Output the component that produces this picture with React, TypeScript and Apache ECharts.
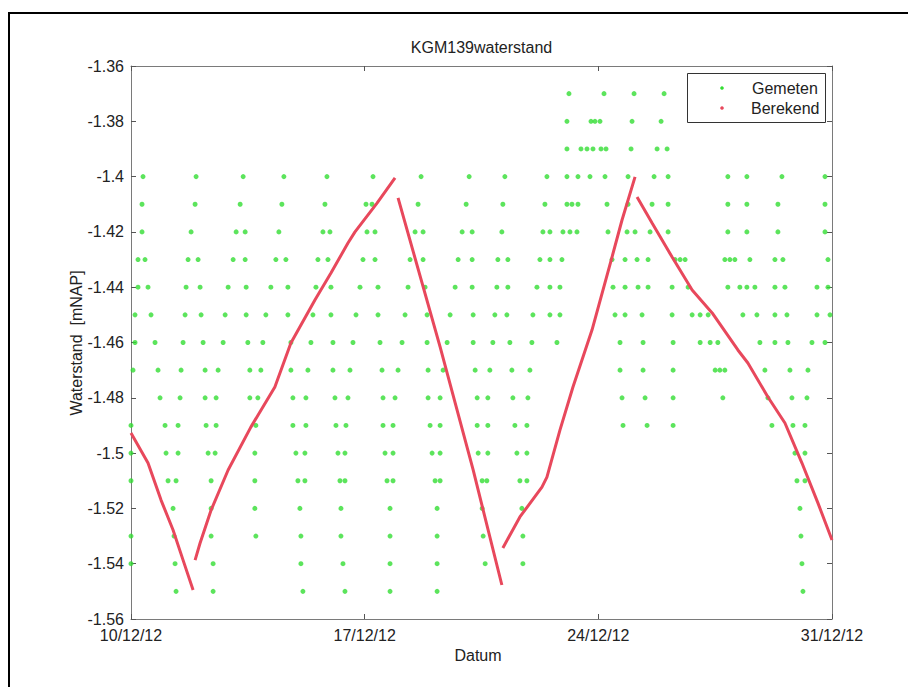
import React, { useEffect, useRef } from "react";
import * as echarts from "echarts";

// X axis: days since 10/12/2012 00:00
const xTickLabels = ["10/12/12", "17/12/12", "24/12/12", "31/12/12"];
const yTickValues = [-1.56, -1.54, -1.52, -1.5, -1.48, -1.46, -1.44, -1.42, -1.4, -1.38, -1.36];

// Gemeten (measured), one array of day offsets per water level
const gemetenLevels = [-1.37, -1.38, -1.39, -1.4, -1.41, -1.42, -1.43, -1.44, -1.45, -1.46, -1.47, -1.48, -1.49, -1.5, -1.51, -1.52, -1.53, -1.54, -1.55];
const g137 = [13.12, 14.17, 15.07, 15.97];
const g138 = [13.06, 13.78, 13.9, 14.05, 15.01, 15.88];
const g139 = [13.06, 13.48, 13.66, 13.84, 14.08, 14.23, 14.98, 15.76, 16.06];
const g140 = [0.36, 1.95, 3.36, 4.58, 5.87, 7.25, 8.69, 10.13, 11.2, 12.46, 13.06, 13.39, 13.75, 14.2, 14.89, 15.67, 16.09, 17.88, 18.45, 19.5, 20.79];
const g141 = [0.33, 1.92, 3.27, 4.52, 5.81, 7.04, 7.22, 8.6, 10.04, 11.14, 12.4, 13.06, 13.21, 13.39, 14.26, 14.89, 15.61, 16.09, 17.88, 18.45, 19.38, 20.79];
const g142 = [0.33, 1.8, 3.15, 3.42, 4.43, 5.75, 5.96, 7.07, 7.31, 8.51, 8.75, 9.92, 10.22, 11.11, 12.34, 12.55, 12.94, 13.15, 13.36, 14.29, 14.86, 15.1, 15.55, 16.09, 17.88, 18.45, 19.38, 20.79];
const g143 = [0.21, 0.42, 1.71, 2.01, 3.06, 3.42, 4.34, 4.64, 5.6, 5.9, 6.95, 7.31, 8.36, 8.75, 9.8, 10.22, 10.99, 11.29, 12.25, 12.55, 12.91, 14.41, 14.8, 15.16, 15.49, 16.3, 16.45, 16.6, 17.79, 17.94, 18.09, 18.54, 19.29, 19.53, 20.88];
const g144 = [0.21, 0.51, 1.65, 2.07, 2.91, 3.45, 4.19, 4.7, 5.54, 5.99, 6.86, 7.4, 8.3, 8.81, 9.71, 10.22, 10.96, 11.29, 12.16, 12.55, 12.85, 14.44, 14.8, 15.19, 15.49, 16.21, 16.69, 17.88, 18.24, 18.45, 18.69, 19.29, 19.59, 20.55, 20.88];
const g145 = [0.12, 0.6, 1.62, 2.1, 2.82, 3.45, 4.04, 4.7, 5.45, 5.99, 6.74, 7.4, 8.21, 8.87, 9.56, 10.25, 10.9, 11.26, 12.04, 12.55, 12.85, 14.5, 14.8, 15.31, 16.21, 16.81, 17.05, 17.29, 18.33, 18.75, 19.29, 19.65, 20.55, 20.94];
const g146 = [0.12, 0.72, 1.56, 2.16, 2.76, 3.5, 3.95, 4.79, 5.39, 6.05, 6.65, 7.46, 8.12, 8.87, 9.47, 10.25, 10.84, 11.35, 12.01, 12.76, 14.65, 15.34, 16.24, 17.05, 17.35, 17.58, 18.84, 19.29, 19.68, 20.4, 20.79];
const g147 = [0.06, 0.81, 1.5, 2.22, 2.61, 3.56, 3.89, 4.79, 5.3, 6.05, 6.56, 7.52, 8.0, 8.9, 9.35, 10.31, 10.75, 11.41, 11.95, 14.65, 15.34, 16.24, 17.5, 17.64, 17.79, 18.99, 19.74, 20.28];
const g148 = [0.87, 1.47, 2.22, 2.55, 3.56, 3.8, 4.85, 5.24, 6.11, 6.5, 7.55, 7.91, 8.9, 9.26, 10.37, 10.69, 11.44, 11.89, 14.71, 15.4, 16.24, 17.73, 19.08, 19.8, 20.25];
const g149 = [0.0, 1.02, 1.41, 2.25, 2.55, 3.74, 4.85, 5.24, 6.14, 6.44, 7.55, 7.85, 8.96, 9.26, 10.37, 10.69, 11.5, 11.86, 14.74, 15.46, 16.24, 19.2, 19.83, 20.19];
const g150 = [0.0, 1.05, 1.41, 2.31, 2.52, 3.71, 4.94, 5.21, 6.2, 6.41, 7.61, 7.85, 9.02, 9.26, 10.4, 10.69, 11.56, 11.86, 19.89, 20.19];
const g151 = [0.0, 1.11, 1.35, 2.4, 3.71, 5.0, 5.21, 6.26, 6.41, 7.67, 7.85, 9.11, 9.26, 10.52, 10.66, 11.65, 11.86, 19.95, 20.19];
const g152 = [1.26, 2.4, 3.71, 5.06, 6.29, 7.76, 9.17, 10.52, 11.71, 20.04];
const g153 = [0.0, 1.29, 2.4, 3.74, 5.09, 6.29, 7.76, 9.17, 10.55, 11.74, 20.07];
const g154 = [0.0, 1.32, 2.46, 5.09, 6.35, 7.76, 9.17, 10.61, 11.74, 20.1];
const g155 = [1.35, 2.46, 5.15, 6.41, 7.76, 9.17, 20.13];
const gemetenRows = [g137, g138, g139, g140, g141, g142, g143, g144, g145, g146, g147, g148, g149, g150, g151, g152, g153, g154, g155];

// Berekend (computed), [day, level] per continuous segment
const berekend1 = [[0, -1.4927], [0.51, -1.5036], [0.9, -1.517], [1.26, -1.5278], [1.56, -1.5387], [1.86, -1.5495]];
const berekend2 = [[1.92, -1.5387], [2.07, -1.5325], [2.4, -1.5206], [2.91, -1.5061], [3.59, -1.4906], [4.31, -1.4761], [4.79, -1.4602], [5.51, -1.4446], [5.99, -1.4349], [6.5, -1.424], [6.71, -1.42], [7.37, -1.4096], [7.91, -1.4005]];
const berekend3 = [[8.0, -1.4077], [9.26, -1.4616], [10.25, -1.5061], [11.11, -1.5477]];
const berekend4 = [[11.14, -1.5343], [11.65, -1.5231], [12.31, -1.5123], [12.46, -1.5087], [12.85, -1.4917], [13.24, -1.4761], [13.81, -1.4555], [14.41, -1.4291], [14.71, -1.4157], [15.1, -1.4001]];
const berekend5 = [[15.16, -1.4074], [15.61, -1.4168], [16.21, -1.4291], [16.81, -1.441], [17.41, -1.4493], [18.18, -1.4627], [18.48, -1.4674], [19.08, -1.4797], [19.59, -1.4891], [20.1, -1.5036], [20.58, -1.5181], [21, -1.5314]];
const berekendSegments = [berekend1, berekend2, berekend3, berekend4, berekend5];

const FONT = "Liberation Sans, Arial, sans-serif";
const TXT = "#222";
const AXIS = "#7a7a7a";
const GREEN = "#33dd33";
const RED = "#e8485c";

export default function App() {
  const ref = useRef<HTMLDivElement>(null);
  useEffect(() => {
    if (!ref.current) return;
    const chart = echarts.init(ref.current, null, { renderer: "svg" });
    const gemetenData: number[][] = [];
    gemetenLevels.forEach((lv, i) => gemetenRows[i].forEach((d) => gemetenData.push([d, lv])));

    const xBase = {
      type: "value" as const,
      min: 0,
      max: 21,
      interval: 7,
      splitLine: { show: false },
      axisLine: { show: true, onZero: false, lineStyle: { color: AXIS, width: 1 } },
      axisTick: { show: true, inside: true, length: 5, lineStyle: { color: "#555" } },
    };
    const yBase = {
      type: "value" as const,
      min: yTickValues[0],
      max: yTickValues[yTickValues.length - 1],
      interval: 0.02,
      splitLine: { show: false },
      axisLine: { show: true, onZero: false, lineStyle: { color: AXIS, width: 1 } },
      axisTick: { show: true, inside: true, length: 5, lineStyle: { color: "#555" } },
    };

    chart.setOption({
      animation: false,
      backgroundColor: "#ffffff",
      grid: { left: 131, top: 66, width: 701, height: 553, containLabel: false },
      xAxis: [
        {
          ...xBase,
          position: "bottom",
          axisLabel: {
            margin: 8,
            fontSize: 16,
            lineHeight: 16,
            fontFamily: FONT,
            color: TXT,
            formatter: (v: number) => xTickLabels[Math.round(v / 7)] ?? "",
          },
        },
        { ...xBase, position: "top", axisLabel: { show: false } },
      ],
      yAxis: [
        {
          ...yBase,
          position: "left",
          axisLabel: {
            margin: 7,
            fontSize: 16,
            lineHeight: 16,
            fontFamily: FONT,
            color: TXT,
            formatter: (v: number) => String(Number(v.toFixed(2))),
          },
        },
        { ...yBase, position: "right", axisLabel: { show: false } },
      ],
      series: [
        {
          name: "Gemeten",
          type: "scatter",
          xAxisIndex: 0,
          yAxisIndex: 0,
          symbol: "circle",
          symbolSize: 5,
          itemStyle: { color: GREEN },
          data: gemetenData,
          z: 2,
        },
        ...berekendSegments.map((seg) => ({
          name: "Berekend",
          type: "line",
          xAxisIndex: 0,
          yAxisIndex: 0,
          showSymbol: false,
          symbol: "none",
          lineStyle: { color: RED, width: 3 },
          data: seg,
          z: 3,
        })),
      ],
      graphic: [
        {
          type: "rect",
          shape: { x: 9, y: 13, width: 1200, height: 1200 },
          style: { fill: "none", stroke: "#000", lineWidth: 2 },
          silent: true,
        },
        {
          type: "text",
          x: 481.5,
          y: 47,
          style: { text: "KGM139waterstand", font: `16px ${FONT}`, fill: TXT, align: "center", verticalAlign: "middle" },
        },
        {
          type: "text",
          x: 478,
          y: 655,
          style: { text: "Datum", font: `16px ${FONT}`, fill: TXT, align: "center", verticalAlign: "middle" },
        },
        {
          type: "text",
          x: 76,
          y: 343,
          rotation: Math.PI / 2,
          style: { text: "Waterstand  [mNAP]", font: `16px ${FONT}`, fill: TXT, align: "center", verticalAlign: "middle" },
        },
        {
          type: "rect",
          shape: { x: 687.5, y: 73.5, width: 138, height: 49 },
          style: { fill: "#fff", stroke: "#333", lineWidth: 1 },
          z: 10,
        },
        {
          type: "circle",
          shape: { cx: 722, cy: 88, r: 1.8 },
          style: { fill: GREEN },
          z: 11,
        },
        {
          type: "circle",
          shape: { cx: 722, cy: 108, r: 1.8 },
          style: { fill: RED },
          z: 11,
        },
        {
          type: "text",
          x: 752,
          y: 88,
          style: { text: "Gemeten", font: `16px ${FONT}`, fill: TXT, align: "left", verticalAlign: "middle" },
          z: 11,
        },
        {
          type: "text",
          x: 751,
          y: 108,
          style: { text: "Berekend", font: `16px ${FONT}`, fill: TXT, align: "left", verticalAlign: "middle" },
          z: 11,
        },
      ],
    });
    return () => chart.dispose();
  }, []);
  return <div ref={ref} style={{ position: "absolute", left: 0, top: 0, width: 908, height: 687 }} />;
}
